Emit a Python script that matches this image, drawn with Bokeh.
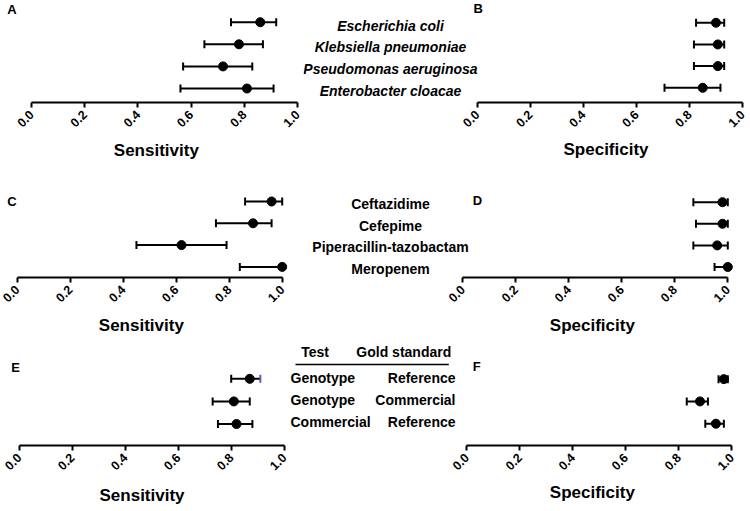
import numpy as np
from bokeh.plotting import figure
from bokeh.layouts import column, row
from bokeh.models import Range1d, FixedTicker, Title
from bokeh.core.properties import value
from bokeh.embed import file_html
from bokeh.resources import INLINE

# ---------------- data ----------------
species = ["Escherichia coli", "Klebsiella pneumoniae", "Pseudomonas aeruginosa", "Enterobacter cloacae"]
sens_species = [0.86, 0.78, 0.72, 0.81]
sens_species_lo = [0.75, 0.65, 0.57, 0.56]
sens_species_hi = [0.92, 0.87, 0.83, 0.91]
spec_species = [0.90, 0.907, 0.907, 0.85]
spec_species_lo = [0.825, 0.817, 0.817, 0.706]
spec_species_hi = [0.931, 0.931, 0.931, 0.917]

drugs = ["Ceftazidime", "Cefepime", "Piperacillin-tazobactam", "Meropenem"]
sens_drug = [0.96, 0.89, 0.62, 1.00]
sens_drug_lo = [0.86, 0.75, 0.45, 0.84]
sens_drug_hi = [1.00, 0.96, 0.79, 1.00]
spec_drug = [0.98, 0.98, 0.96, 1.00]
spec_drug_lo = [0.87, 0.88, 0.87, 0.95]
spec_drug_hi = [1.00, 1.00, 1.00, 1.00]

comp_test = ["Genotype", "Genotype", "Commercial"]
comp_gold = ["Reference", "Commercial", "Reference"]
comp_header = ["Test", "Gold standard"]
sens_comp = [0.87, 0.81, 0.82]
sens_comp_lo = [0.80, 0.73, 0.75]
sens_comp_hi = [0.91, 0.87, 0.88]
spec_comp = [0.97, 0.88, 0.94]
spec_comp_lo = [0.95, 0.83, 0.90]
spec_comp_hi = [0.985, 0.91, 0.97]

x_ticks = [0.0, 0.2, 0.4, 0.6, 0.8, 1.0]
x_tick_labels = ["0.0", "0.2", "0.4", "0.6", "0.8", "1.0"]

FONT = "Liberation Sans"
BLACK = "#000000"
TITLE_BASE = 39.0


def make_panel(width, height, frame_h, x0, s, first, step, n, title, title_left, title_dy):
    y_end = (n - 1) + first / step
    y_start = y_end - frame_h / step
    p = figure(width=width, height=height, output_backend="svg", toolbar_location=None,
               x_range=Range1d(-x0 / s, (width - x0) / s), y_range=Range1d(y_start, y_end),
               y_axis_location=None, min_border_left=0, min_border_right=0,
               min_border_top=0, min_border_bottom=height - frame_h)
    p.outline_line_color = None
    p.grid.visible = False
    p.background_fill_color = "white"
    p.border_fill_color = "white"
    ax = p.xaxis[0]
    ax.bounds = (0, 1)
    ax.ticker = FixedTicker(ticks=x_ticks)
    ax.major_label_overrides = {t: l for t, l in zip(x_ticks, x_tick_labels)}
    ax.major_label_orientation = np.pi / 4
    ax.major_label_text_font = FONT
    ax.major_label_text_font_style = "bold"
    ax.major_label_text_font_size = "12.5px"
    ax.major_label_text_color = BLACK
    ax.major_label_standoff = 5
    ax.axis_line_width = 2
    ax.axis_line_color = BLACK
    ax.major_tick_line_width = 2
    ax.major_tick_line_color = BLACK
    ax.major_tick_out = 5
    ax.major_tick_in = 0
    ax.minor_tick_line_color = None
    t = Title(text=title, align="left", offset=title_left,
              standoff=max(title_dy - TITLE_BASE, 0), text_font=FONT, text_font_style="bold",
              text_font_size="17px", text_color=BLACK)
    p.add_layout(t, "below")

    def px(xp, yp):
        return (xp - x0) / s, y_end - yp / step
    return p, px


def draw_errors(p, vals, lo, hi, hi_colors=None):
    n = len(vals)
    ys = list(range(n - 1, -1, -1))
    if hi_colors is None:
        hi_colors = [BLACK] * n
    p.segment(x0=lo, y0=ys, x1=hi, y1=ys, line_width=2, line_color=BLACK)
    p.scatter(x=lo, y=ys, marker="dash", angle=np.pi / 2, size=8, line_width=2, line_color=BLACK)
    p.scatter(x=hi, y=ys, marker="dash", angle=np.pi / 2, size=8, line_width=2, line_color=hi_colors)
    p.scatter(x=vals, y=ys, size=9, fill_color=BLACK, line_color=BLACK)
    return ys


def letter(p, px, txt, xp, yp):
    x, y = px(xp, yp)
    p.text(x=[x], y=[y], text=[txt], text_font=value(FONT), text_font_style="bold",
           text_font_size="13px", text_color=BLACK, text_align="left", text_baseline="middle")


# ---------------- row 1 (A, B) ----------------
pA, pxA = make_panel(303, 168, 102, 31.0, 266.0, 21.7, 22.1, 4, "Sensitivity", 113.3, 48.3)
draw_errors(pA, sens_species, sens_species_lo, sens_species_hi)
letter(pA, pxA, "A", 6.7, 8.5)

pB, pxB = make_panel(447, 168, 104, 173.7, 265.3, 22.7, 22.1, 4, "Specificity", 260.0, 45.5)
draw_errors(pB, spec_species, spec_species_lo, spec_species_hi)
letter(pB, pxB, "B", 170, 8.5)
xs_lab = [pxB(87.0, 0)[0]] * len(species)
ys_lab = [pxB(0, 22.7 + 3.0 + i * 22.1)[1] for i in range(len(species))]
pB.text(x=xs_lab, y=ys_lab, text=species, text_font=value(FONT), text_font_style="bold italic",
        text_font_size="14px", text_color=BLACK, text_align="center", text_baseline="middle")

# ---------------- row 2 (C, D) ----------------
pC, pxC = make_panel(295, 171, 110, 16.7, 265.0, 33.3, 22.0, 4, "Sensitivity", 98.3, 48.4)
draw_errors(pC, sens_drug, sens_drug_lo, sens_drug_hi)
letter(pC, pxC, "C", 6.7, 33.3)

pD, pxD = make_panel(455, 171, 111, 167.3, 265.0, 34.3, 22.0, 4, "Specificity", 254.3, 46.7)
draw_errors(pD, spec_drug, spec_drug_lo, spec_drug_hi)
letter(pD, pxD, "D", 177.3, 33.0)
xs_lab = [pxD(95, 0)[0]] * len(drugs)
ys_lab = [pxD(0, 34.3 + 2.0 + i * 22.0)[1] for i in range(len(drugs))]
pD.text(x=xs_lab, y=ys_lab, text=drugs, text_font=value(FONT), text_font_style="bold",
        text_font_size="14px", text_color=BLACK, text_align="center", text_baseline="middle")

# ---------------- row 3 (E, F) ----------------
pE, pxE = make_panel(289, 172, 107, 18.7, 265.0, 39.7, 22.8, 3, "Sensitivity", 99.0, 52.0)
draw_errors(pE, sens_comp, sens_comp_lo, sens_comp_hi, hi_colors=["#5a5eb0", BLACK, BLACK])
letter(pE, pxE, "E", 10.7, 28.0)

pF, pxF = make_panel(461, 172, 107, 177.3, 265.0, 40.0, 22.5, 3, "Specificity", 260.3, 47.4)
draw_errors(pF, spec_comp, spec_comp_lo, spec_comp_hi)
letter(pF, pxF, "F", 183.3, 27.7)
row_y = [pxF(0, 38.7 + i * 22.3)[1] for i in range(len(comp_test))]
pF.text(x=[pxF(1.0, 0)[0]] * len(comp_test), y=row_y, text=comp_test, text_font=value(FONT),
        text_font_style="bold", text_font_size="14px", text_color=BLACK,
        text_align="left", text_baseline="middle")
pF.text(x=[pxF(166, 0)[0]] * len(comp_gold), y=row_y, text=comp_gold, text_font=value(FONT),
        text_font_style="bold", text_font_size="14px", text_color=BLACK,
        text_align="right", text_baseline="middle")
hy = pxF(0, 12.7)[1]
pF.text(x=[pxF(25.5, 0)[0], pxF(114.3, 0)[0]], y=[hy, hy], text=comp_header, text_font=value(FONT),
        text_font_style="bold", text_font_size="14px", text_color=BLACK,
        text_align="center", text_baseline="middle")
ux0, uy = pxF(6, 25.3)
ux1, _ = pxF(159.3, 25.3)
pF.segment(x0=[ux0], y0=[uy], x1=[ux1], y1=[uy], line_width=1.5, line_color=BLACK)

layout = column(row(pA, pB), row(pC, pD), row(pE, pF))
open("out.html", "w").write(file_html(layout, INLINE))
